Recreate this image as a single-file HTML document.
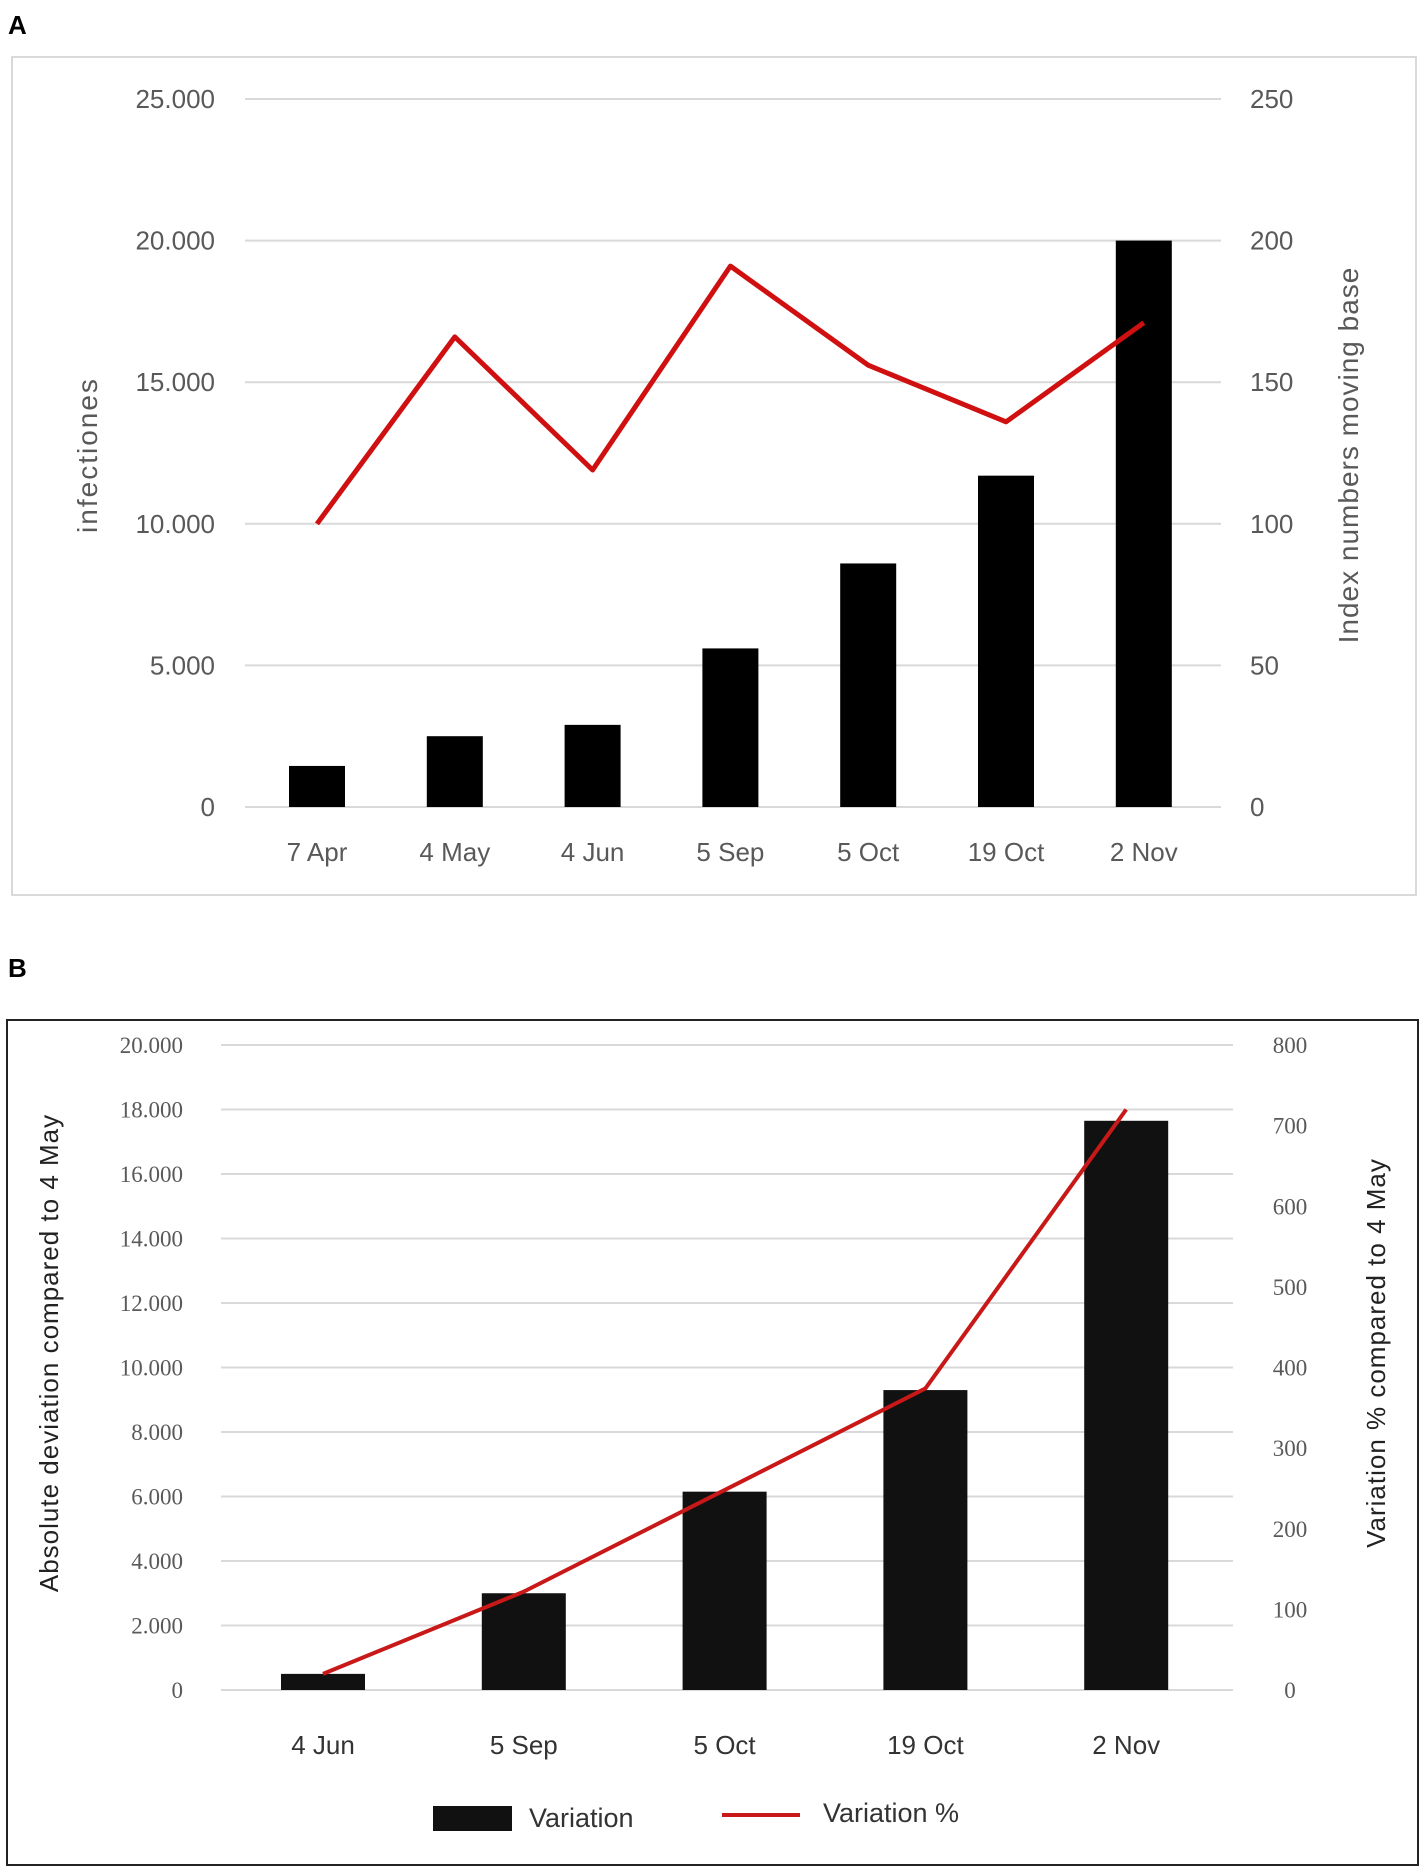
<!DOCTYPE html>
<html><head><meta charset="utf-8"><style>
body{margin:0;background:#fff}
svg{display:block}
text{font-family:"Liberation Sans",sans-serif}
</style></head><body>
<svg id="s" width="1425" height="1867" xmlns="http://www.w3.org/2000/svg">
<text x="8" y="34" font-size="26" font-weight="bold">A</text>
<rect x="12" y="57" width="1404" height="838" fill="#fff" stroke="#d9d9d9" stroke-width="2"/>
<g id="ga"></g>
<text x="8" y="977" font-size="26" font-weight="bold">B</text>
<rect x="7" y="1020" width="1411" height="845" fill="#fff" stroke="#222" stroke-width="2"/>
<g id="gb"></g>
</svg>
<script>
const catsA=["7 Apr","4 May","4 Jun","5 Sep","5 Oct","19 Oct","2 Nov"];
const barsA=[1450,2500,2900,5600,8600,11700,20000];
const lineA=[100,166,119,191,156,136,171];
const ticksAL=["0","5.000","10.000","15.000","20.000","25.000"];
const ticksAR=["0","50","100","150","200","250"];
const catsB=["4 Jun","5 Sep","5 Oct","19 Oct","2 Nov"];
const barsB=[500,3000,6150,9300,17650];
const lineB=[20,122,248,374,720];
const ticksBL=["0","2.000","4.000","6.000","8.000","10.000","12.000","14.000","16.000","18.000","20.000"];
const ticksBR=["0","100","200","300","400","500","600","700","800"];
const NS="http://www.w3.org/2000/svg";
function mk(p,t,a){const e=document.createElementNS(NS,t);for(const k in a)e.setAttribute(k,a[k]);p.appendChild(e);return e;}
// Chart A
const ga=document.getElementById('ga');
const yA=v=>807-v*(708/25000), yAR=v=>807-v*(708/250), xA=i=>317+i*137.8;
ticksAL.forEach((t,i)=>{
 const l=mk(ga,'line',{x1:245,x2:1221,y1:yA(i*5000),y2:yA(i*5000),stroke:'#d9d9d9','stroke-width':2});
 
 const a=mk(ga,'text',{x:215,y:yA(i*5000)+9,'font-size':26,fill:'#595959','text-anchor':'end'});a.textContent=t;
 
 const b=mk(ga,'text',{x:1250,y:yA(i*5000)+9,'font-size':26,fill:'#595959'});b.textContent=ticksAR[i];
 
});
catsA.forEach((c,i)=>{
 const r=mk(ga,'rect',{x:xA(i)-28,y:yA(barsA[i]),width:56,height:807-yA(barsA[i]),fill:'#000'});
 
 const t=mk(ga,'text',{x:xA(i),y:861,'font-size':26,fill:'#595959','text-anchor':'middle'});t.textContent=c;
 
});
const pa=mk(ga,'polyline',{points:lineA.map((v,i)=>xA(i)+','+yAR(v)).join(' '),fill:'none',stroke:'#d01010','stroke-width':5,'stroke-linejoin':'round'});

const ta=mk(ga,'text',{transform:'translate(97,455) rotate(-90)','font-size':28,fill:'#595959','text-anchor':'middle','letter-spacing':'2'});ta.textContent='infectiones';

const tb=mk(ga,'text',{transform:'translate(1358,455) rotate(-90)','font-size':28,fill:'#595959','text-anchor':'middle','letter-spacing':'1'});tb.textContent='Index numbers moving base';

// Chart B
const gb=document.getElementById('gb');
const yB=v=>1690-v*(645/20000), yBR=v=>1690-v*(645/800), xB=i=>323+i*200.8;
ticksBL.forEach((t,i)=>{
 const l=mk(gb,'line',{x1:221,x2:1233,y1:yB(i*2000),y2:yB(i*2000),stroke:'#d9d9d9','stroke-width':2});
 
 const a=mk(gb,'text',{x:183,y:yB(i*2000)+8,'font-size':23,fill:'#595959','text-anchor':'end',style:'font-family:"Liberation Serif",serif'});a.textContent=t;
 
});
ticksBR.forEach((t,i)=>{
 const b=mk(gb,'text',{x:1290,y:yBR(i*100)+8,'font-size':23,fill:'#595959','text-anchor':'middle',style:'font-family:"Liberation Serif",serif'});b.textContent=t;
 
});
catsB.forEach((c,i)=>{
 const r=mk(gb,'rect',{x:xB(i)-42,y:yB(barsB[i]),width:84,height:1690-yB(barsB[i]),fill:'#111'});
 
 const t=mk(gb,'text',{x:xB(i),y:1754,'font-size':26,fill:'#333','text-anchor':'middle'});t.textContent=c;
 
});
const pb=mk(gb,'polyline',{points:lineB.map((v,i)=>xB(i)+','+yBR(v)).join(' '),fill:'none',stroke:'#c81818','stroke-width':4,'stroke-linejoin':'round'});

const tc=mk(gb,'text',{transform:'translate(58,1353) rotate(-90)','font-size':26,fill:'#222','text-anchor':'middle','letter-spacing':'1'});tc.textContent='Absolute deviation compared to 4 May';

const td=mk(gb,'text',{transform:'translate(1385,1353) rotate(-90)','font-size':26,fill:'#222','text-anchor':'middle','letter-spacing':'1'});td.textContent='Variation % compared to 4 May';

const lr=mk(gb,'rect',{x:433,y:1806,width:79,height:25,fill:'#111'});

const lt=mk(gb,'text',{x:529,y:1827,'font-size':27,fill:'#333'});lt.textContent='Variation';

const ll=mk(gb,'line',{x1:722,x2:800,y1:1815,y2:1815,stroke:'#c81818','stroke-width':4});

const lu=mk(gb,'text',{x:823,y:1822,'font-size':27,fill:'#333'});lu.textContent='Variation %';

</script>
</body></html>
